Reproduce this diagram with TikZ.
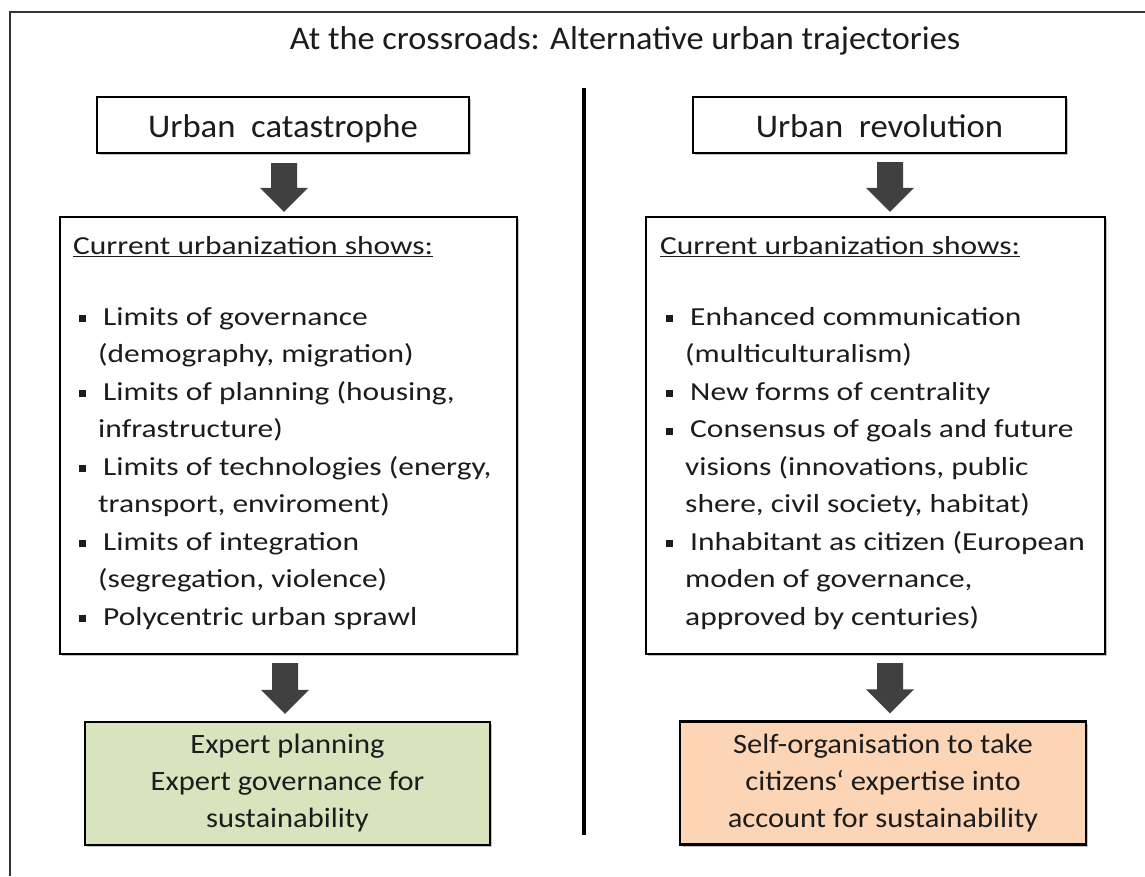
\documentclass[tikz,border=0pt]{standalone}
\usepackage{fontspec}
\setmainfont{Carlito}
\newfontfamily\titlefont{Carlito}[FakeStretch=1.04]
\newfontfamily\headfont{Carlito}[FakeStretch=1.05]
\newfontfamily\listfont{Carlito}[FakeStretch=1.21]
\newfontfamily\resultfont{Carlito}[FakeStretch=1.09]
\usetikzlibrary{calc,shadows}

\definecolor{framegray}{HTML}{333333}
\definecolor{arrowgray}{HTML}{404040}
\definecolor{greenfill}{HTML}{D7E4BD}
\definecolor{orangefill}{HTML}{FBD5B5}
\definecolor{ink}{HTML}{1C1C1C}

% list helpers: square bullet with hanging continuation lines
\newcommand\bulletitem{\hspace*{6pt}\makebox[24pt][l]{\rule[3pt]{7pt}{7pt}}}
\newcommand\contline{\hspace*{25pt}}

\begin{document}
\begin{tikzpicture}[x=1pt,y=-1pt,
  every node/.style={text=ink},
  box/.style={draw=black,line width=2.2pt,fill=white,inner sep=0pt,
    drop shadow={shadow xshift=2pt,shadow yshift=-2pt,fill=gray!60,opacity=0.8}},
  headbox/.style={box,minimum width=372pt,minimum height=56pt,
    text height=31pt,text depth=7pt,
    font={\headfont\fontsize{33}{40}\selectfont}},
  listbox/.style={box,minimum height=437pt},
  listtext/.style={anchor=north west,inner sep=0pt,align=left,
    font={\listfont\fontsize{26}{37.5}\selectfont}},
  resultbox/.style={box,minimum height=123pt,align=center,
    font={\resultfont\fontsize{28}{37}\selectfont}},
  blockarrow/.style={fill=arrowgray,
    to path={-- ($(\tikztostart)+(13,0)$) -- ($(\tikztotarget)+(13,-24)$)
      -- ($(\tikztotarget)+(24,-24)$) -- (\tikztotarget)
      -- ($(\tikztotarget)+(-24,-24)$) -- ($(\tikztotarget)+(-13,-24)$)
      -- ($(\tikztostart)+(-13,0)$) -- cycle}}
]
\useasboundingbox (0,0) rectangle (1145,876);
\fill[white] (0,0) rectangle (1145,876);

% outer frame (runs off the right and bottom edges)
\draw[framegray,line width=2.2pt] (10,876) -- (10,12) -- (1145,12);

% title
\node[anchor=base,font={\titlefont\fontsize{33}{40}\selectfont}] (title) at (625,49)
  {At the crossroads: Alternative urban trajectories};

% divider between the two trajectories
\draw[black,line width=4pt] (584,88) -- (584,835);

% left column
\node[headbox] (cat) at (283,125) {Urban\ \ catastrophe};
\node[listbox,minimum width=457pt] (lbox) at (288.5,435.5) {};
\node[listtext] (ltext) at (73,228) {\rule{0pt}{26pt}\underline{Current urbanization shows:}\\[33.5pt]
\bulletitem Limits of governance\\
\contline (demography, migration)\\
\bulletitem Limits of planning (housing,\\
\contline infrastructure)\\
\bulletitem Limits of technologies (energy,\\
\contline transport, enviroment)\\
\bulletitem Limits of integration\\
\contline (segregation, violence)\\
\bulletitem Polycentric urban sprawl};
\node[resultbox,fill=greenfill,minimum width=405pt] (expert) at (287.5,783.5)
  {Expert planning\\Expert governance for\\sustainability};

% right column
\node[headbox,minimum width=373pt] (rev) at (879.5,125) {Urban\ \ revolution};
\node[listbox,minimum width=459pt] (rbox) at (875.5,435.5) {};
\node[listtext] (rtext) at (660,228) {\rule{0pt}{26pt}\underline{Current urbanization shows:}\\[33.5pt]
\bulletitem Enhanced communication\\
\contline (multiculturalism)\\
\bulletitem New forms of centrality\\
\bulletitem Consensus of goals and future\\
\contline visions (innovations, public\\
\contline shere, civil society, habitat)\\
\bulletitem Inhabitant as citizen (European\\
\contline moden of governance,\\
\contline approved by centuries)};
\node[resultbox,fill=orangefill,minimum width=406pt] (self) at (883,783)
  {Self-organisation to take\\citizens‘ expertise into\\account for sustainability};

% block arrows between the boxes
\coordinate (la1s) at ($(cat.south)+(1,9)$);
\coordinate (la1e) at (la1s |- {$(lbox.north)+(0,-4)$});
\coordinate (la2s) at (285,663);
\coordinate (la2e) at (la2s |- {$(expert.north)+(0,-7)$});
\coordinate (ra1s) at (890,162);
\coordinate (ra1e) at (ra1s |- {$(rbox.north)+(0,-4)$});
\coordinate (ra2s) at (890,663);
\coordinate (ra2e) at (ra2s |- {$(self.north)+(0,-7)$});
\path[blockarrow] (la1s) to (la1e);
\path[blockarrow] (la2s) to (la2e);
\path[blockarrow] (ra1s) to (ra1e);
\path[blockarrow] (ra2s) to (ra2e);
\end{tikzpicture}
\end{document}
